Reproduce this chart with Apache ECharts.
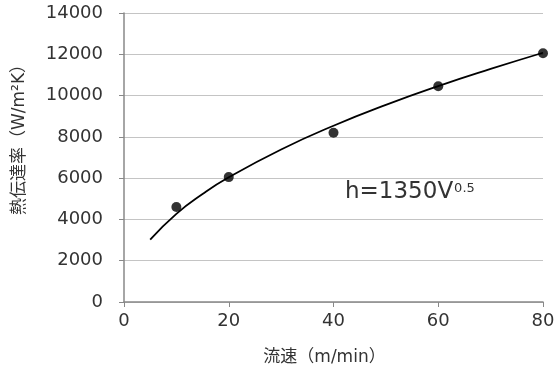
<!DOCTYPE html>
<html><head><meta charset="utf-8">
<script src="https://cdn.jsdelivr.net/npm/echarts@6/dist/echarts.min.js"></script>
<style>html,body{margin:0;padding:0;background:#fff}#c{width:558px;height:371px}</style>
</head><body><div id="c"></div>
<script>
var measuredV = [10, 20, 40, 60, 80];
var measuredH = [4600, 6050, 8200, 10450, 12050];
var curveV = [5, 10, 15, 20, 30, 40, 50, 60, 70, 80];
var curveH = [3020, 4270, 5230, 6040, 7390, 8540, 9550, 10460, 11290, 12075];
var xTicks = [0, 20, 40, 60, 80];
var yTicks = [0, 2000, 4000, 6000, 8000, 10000, 12000, 14000];

var font = '"DejaVu Sans", "Noto Sans CJK JP", sans-serif';
var chart = echarts.init(document.getElementById('c'));
chart.setOption({
  animation: false,
  backgroundColor: '#fff',
  grid: {left: 124, right: 15, top: 13, bottom: 68},
  xAxis: {
    type: 'value', min: xTicks[0], max: xTicks[xTicks.length-1], interval: 20,
    name: '流速（m/min）', nameLocation: 'middle', nameGap: 47,
    nameTextStyle: {fontFamily: font, fontSize: 17, color: '#333', padding: [0, 18, 0, 0]},
    axisLine: {show: true, lineStyle: {color: '#888', width: 1.5}},
    axisTick: {show: true, length: 5, lineStyle: {color: '#888'}},
    axisLabel: {fontFamily: font, fontSize: 18, color: '#333', margin: 10,
      formatter: function(v){return String(v);}},
    splitLine: {show: false}
  },
  yAxis: {
    type: 'value', min: yTicks[0], max: yTicks[yTicks.length-1], interval: 2000,
    name: '熱伝達率（W/m²K）', nameLocation: 'middle', nameGap: 96, nameRotate: 90,
    nameTextStyle: {fontFamily: font, fontSize: 17, color: '#333', padding: [0, 0, 0, 44]},
    axisLine: {show: true, lineStyle: {color: '#888', width: 1.5}},
    axisTick: {show: true, length: 5, lineStyle: {color: '#888'}},
    axisLabel: {fontFamily: font, fontSize: 18, color: '#333', margin: 21,
      formatter: function(v){return String(v);}},
    splitLine: {show: true, lineStyle: {color: '#c4c4c4', width: 1}}
  },
  series: [
    {type: 'line', smooth: true, symbol: 'none',
     data: curveV.map(function(v,i){return [v, curveH[i]];}),
     lineStyle: {color: '#000', width: 1.8}},
    {type: 'scatter', symbol: 'circle', symbolSize: 10,
     data: measuredV.map(function(v,i){return [v, measuredH[i]];}),
     itemStyle: {color: '#000'}}
  ],
  graphic: [{
    type: 'text', left: 345, top: 179,
    style: {
      text: '{a|h=1350V}{b|0.5}',
      rich: {
        a: {fontFamily: font, fontSize: 23, lineHeight: 25, fill: '#333', verticalAlign: 'bottom'},
        b: {fontFamily: font, fontSize: 13, lineHeight: 13, fill: '#333', verticalAlign: 'top', padding: [3, 0, 0, 1]}
      }
    }
  }]
});
</script></body></html>
